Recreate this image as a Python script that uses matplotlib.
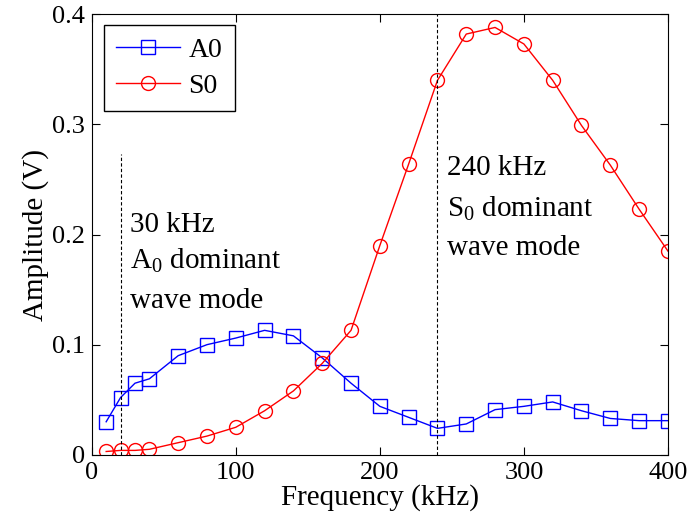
import matplotlib.pyplot as plt

plt.rcParams['font.family'] = ['Liberation Serif', 'DejaVu Serif']
plt.rcParams['mathtext.fontset'] = 'custom'
plt.rcParams['mathtext.rm'] = 'Liberation Serif'
plt.rcParams['mathtext.it'] = 'Liberation Serif:italic'

freq = [10, 20, 30, 40, 60, 80, 100, 120, 140, 160, 180, 200, 220, 240,
        260, 280, 300, 320, 340, 360, 380, 400]
a0 = [0.030, 0.052, 0.065, 0.069, 0.090, 0.100, 0.106, 0.113, 0.108, 0.088,
      0.065, 0.044, 0.034, 0.024, 0.028, 0.041, 0.044, 0.048, 0.040, 0.033,
      0.031, 0.031]
s0 = [0.003, 0.004, 0.004, 0.005, 0.011, 0.017, 0.025, 0.040, 0.058, 0.083,
      0.113, 0.190, 0.264, 0.340, 0.382, 0.388, 0.373, 0.340, 0.299, 0.263,
      0.223, 0.185]

fig = plt.figure(figsize=(6.9, 5.27), dpi=100)
ax = fig.add_axes([0.133, 0.137, 0.835, 0.836])

ax.plot(freq, a0, "b-", marker="s", markersize=10, markerfacecolor="none",
        markeredgewidth=1, linewidth=1, label="A0")
ax.plot(freq, s0, "r-", marker="o", markersize=10, markerfacecolor="none",
        markeredgewidth=1, linewidth=1, label="S0")

# dominant-mode markers
ax.plot([20, 20], [0, 0.273], "k--", linewidth=0.8, dashes=(3, 2))
ax.axvline(240, color="k", linestyle="--", linewidth=0.8, dashes=(3, 2))

fs = 21
ax.text(26.4, 0.2023, "30 kHz", fontsize=fs)
ax.text(26.4, 0.1687, "A$_0$ dominant", fontsize=fs)
ax.text(26.4, 0.1333, "wave mode", fontsize=fs)
ax.text(246.5, 0.254, "240 kHz", fontsize=fs)
ax.text(246.5, 0.216, "S$_0$ dominant", fontsize=fs)
ax.text(246.5, 0.181, "wave mode", fontsize=fs)

ax.set_xlim(0, 400)
ax.set_ylim(0, 0.4)
ax.set_xticks([0, 100, 200, 300, 400])
ax.set_yticks([0, 0.1, 0.2, 0.3, 0.4])
ax.set_yticklabels(["0", "0.1", "0.2", "0.3", "0.4"])
ax.tick_params(direction="in", top=True, right=True, labelsize=19, length=6, pad=5)
ax.set_xlabel("Frequency (kHz)", fontsize=21, labelpad=0)
ax.set_ylabel("Amplitude (V)", fontsize=21, labelpad=2)

leg = ax.legend(loc="upper left", bbox_to_anchor=(0.0208, 0.975), fontsize=20,
                fancybox=False, edgecolor="k", framealpha=1, borderaxespad=0,
                handlelength=2.3, borderpad=0.45, labelspacing=0.37,
                handletextpad=0.3)
leg.get_frame().set_linewidth(1)

plt.savefig("out.png", dpi=100)
